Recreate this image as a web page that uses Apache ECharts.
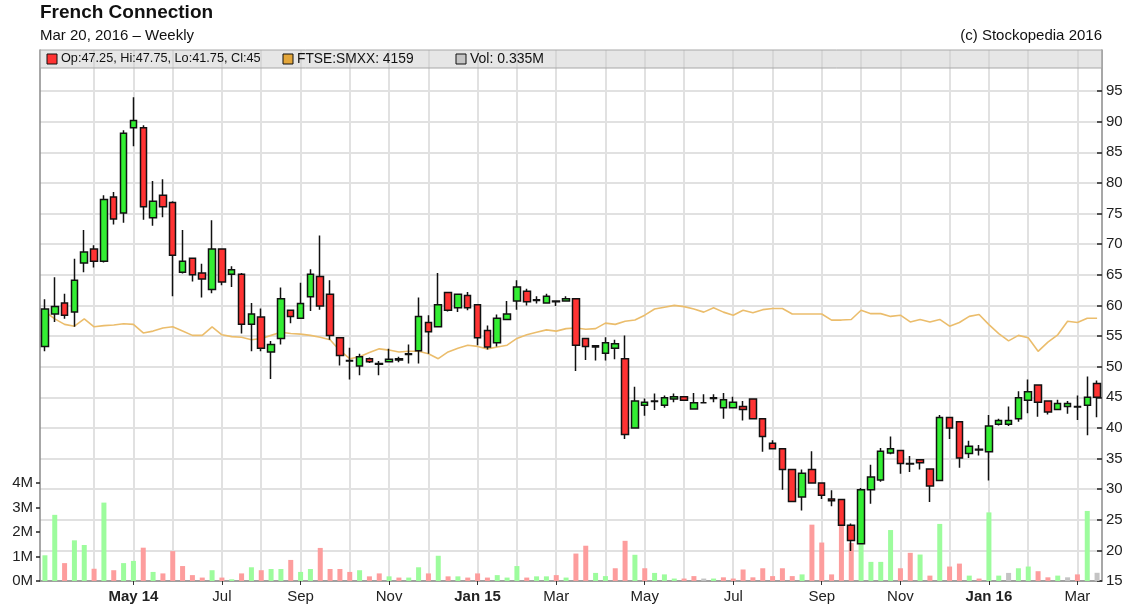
<!DOCTYPE html>
<html><head><meta charset="utf-8">
<script src="https://cdn.jsdelivr.net/npm/echarts@6/dist/echarts.min.js"></script>
<style>html,body{margin:0;padding:0;background:#fff}#c{width:1148px;height:615px}</style>
</head><body><div id="c"></div>
<script>
// ---- data (weekly bars, first bar week of 2014-03-03) ----
const firstWeek = [2014, 2, 3];
const opens = [53.3,58.6,60.4,58.9,66.9,69.2,67.2,77.7,75.1,89.0,
  89.0,74.3,78.0,76.8,65.4,67.7,65.3,62.6,69.2,65.1,
  65.1,56.9,58.1,52.4,54.6,59.2,57.9,61.4,64.7,61.8,
  54.7,51.0,50.1,51.3,50.5,50.8,51.3,52.0,52.6,57.2,
  56.5,62.1,59.6,61.6,60.1,55.9,53.9,57.7,60.7,62.3,
  60.8,60.4,60.7,60.7,61.1,54.6,53.2,52.2,53.0,51.3,
  40.0,43.7,44.3,43.7,44.7,45.1,43.1,44.1,44.8,43.3,
  43.3,43.5,44.7,41.5,37.5,36.6,33.2,28.7,33.2,31.0,
  28.4,28.3,24.1,21.1,29.9,31.5,35.9,36.3,34.2,34.8,
  33.3,31.4,41.7,41.0,35.8,36.5,36.1,40.6,40.6,41.5,
  44.5,47.0,44.4,43.0,43.5,43.5,43.7,47.25];
const closes = [59.4,59.8,58.4,64.1,68.7,67.2,77.3,74.1,88.1,90.2,
  76.1,77.0,76.1,68.2,67.2,65.0,64.3,69.2,63.8,65.8,
  56.9,58.6,53.0,53.6,61.1,58.2,60.3,65.1,59.9,55.1,
  51.8,50.9,51.6,50.8,50.4,51.2,51.1,52.1,58.2,55.7,
  60.1,59.2,61.8,59.6,54.7,53.2,57.9,58.6,63.0,60.6,
  60.9,61.5,60.6,61.1,53.5,53.3,53.4,53.9,53.75,38.9,
  44.4,44.2,44.4,44.9,45.1,44.5,44.1,44.1,44.9,44.6,
  44.2,43.0,41.5,38.6,36.6,33.2,28.0,32.6,31.0,29.0,
  28.1,24.1,21.6,29.9,32.0,36.2,36.6,34.2,34.1,34.3,
  30.5,41.7,40.0,35.1,37.0,36.4,40.3,41.2,41.2,44.9,
  45.9,44.2,42.6,44.0,44.0,43.4,45.0,45.0];
const lows = [52.5,57.3,57.8,56.5,65.4,66.2,67.0,73.2,73.5,86.0,
  74.0,73.0,74.4,61.5,65.2,63.9,61.3,62.0,63.3,63.0,
  55.4,52.5,52.5,48.0,53.6,57.1,57.8,59.1,59.3,54.4,
  50.2,47.9,48.6,50.6,48.6,50.7,50.7,50.5,50.5,52.1,
  56.4,59.0,58.9,59.2,53.5,52.8,53.3,57.6,59.3,60.0,
  60.3,60.3,59.9,60.6,49.3,51.1,51.0,51.0,51.2,38.2,
  39.9,42.0,42.9,43.3,44.2,44.4,43.0,44.0,44.2,41.5,
  43.2,41.2,41.4,36.1,36.5,29.9,27.9,26.5,30.9,28.4,
  27.2,24.0,19.9,21.0,27.6,31.2,35.7,32.5,32.8,33.2,
  27.9,31.3,38.2,33.5,35.1,35.5,31.4,40.4,40.3,41.0,
  42.4,41.8,42.2,42.9,42.3,41.3,38.8,41.75];
const highs = [61.0,64.6,61.9,67.6,72.3,69.8,78.0,78.5,88.6,94.0,
  89.4,80.3,80.6,77.0,72.3,67.8,66.8,73.9,69.3,66.4,
  65.3,60.4,59.5,54.2,62.9,59.3,63.7,65.9,71.4,64.1,
  54.8,53.1,52.1,51.5,50.9,52.9,51.6,53.6,61.3,58.4,
  65.3,62.2,61.9,62.2,60.2,56.7,58.5,60.7,64.1,62.7,
  61.5,61.9,60.8,61.5,61.2,54.7,53.5,54.8,54.4,55.1,
  46.7,44.8,45.6,45.3,45.6,45.2,45.7,45.5,45.5,45.7,
  45.1,44.4,44.8,41.6,38.0,36.6,33.3,33.2,36.2,31.1,
  29.8,28.4,24.4,30.2,34.0,36.7,38.6,36.4,35.4,34.9,
  33.4,42.1,41.8,41.1,37.9,37.2,42.1,41.5,43.5,46.0,
  47.9,47.1,44.5,44.6,44.4,45.3,48.4,47.75];
const volumesM = [1.05,2.7,0.73,1.66,1.47,0.5,3.2,0.44,0.73,0.82,
  1.36,0.37,0.31,1.22,0.61,0.24,0.14,0.44,0.14,0.07,
  0.31,0.56,0.44,0.49,0.49,0.86,0.37,0.49,1.35,0.49,
  0.49,0.37,0.44,0.19,0.31,0.19,0.14,0.14,0.56,0.31,
  1.03,0.19,0.19,0.14,0.31,0.14,0.24,0.14,0.61,0.14,
  0.19,0.19,0.24,0.14,1.12,1.44,0.33,0.2,0.52,1.64,
  1.07,0.52,0.33,0.27,0.1,0.1,0.2,0.1,0.1,0.15,
  0.1,0.47,0.15,0.52,0.2,0.52,0.2,0.27,2.3,1.57,
  0.27,2.4,1.55,1.7,0.78,0.78,2.08,0.52,1.15,1.08,
  0.22,2.33,0.59,0.71,0.22,0.1,2.8,0.22,0.33,0.52,
  0.59,0.4,0.15,0.22,0.15,0.27,2.86,0.335];
const ftseScaled = [59.0,57.8,56.9,56.6,57.8,56.5,56.7,56.8,57.0,56.9,
  55.5,55.8,56.3,56.5,55.8,55.1,55.1,56.5,55.2,54.9,
  54.8,54.4,54.6,55.1,55.6,55.4,55.3,55.1,54.8,54.4,
  52.6,51.3,51.6,52.3,52.9,52.7,52.4,52.5,52.5,52.1,
  51.3,52.4,53.0,53.5,53.3,52.9,53.2,53.5,54.6,55.2,
  55.6,56.0,55.8,56.2,56.3,56.1,56.2,57.1,56.9,57.4,
  57.6,58.4,59.4,59.7,60.0,59.8,59.4,58.9,59.6,58.9,
  58.4,59.2,58.8,59.3,59.5,59.5,58.6,58.6,58.6,58.6,
  57.6,57.6,57.7,59.2,58.65,58.65,58.2,58.4,57.3,57.7,
  57.3,57.7,56.6,57.2,58.2,58.5,56.85,55.4,54.2,55.1,
  54.7,52.5,54.0,55.2,57.4,57.2,57.9,57.9];
const priceTicks = [15,20,25,30,35,40,45,50,55,60,65,70,75,80,85,90,95];
const volTicksM = [0,1,2,3,4];
const monthNames = ['Jan','Feb','Mar','Apr','May','Jun','Jul','Aug','Sep','Oct','Nov','Dec'];
const titleText = 'French Connection';
const subtitleText = 'Mar 20, 2016 \u2013 Weekly';
const copyrightText = '(c) Stockopedia 2016';
const legendItems = ['Op:47.25, Hi:47.75, Lo:41.75, Cl:45', 'FTSE:SMXX: 4159', 'Vol: 0.335M'];

// ---- derived ----
const categories = [], catDates = [];
const t0 = Date.UTC(firstWeek[0], firstWeek[1], firstWeek[2]);
for (let i = 0; i < opens.length; i++) {
  const d = new Date(t0 + i * 7 * 86400000);
  catDates.push(d);
  categories.push(d.toISOString().slice(0, 10));
}
const isMonthStart = i => i > 0 && catDates[i].getUTCDate() <= 7;
const isLabel = i => isMonthStart(i) && catDates[i].getUTCMonth() % 2 === 0;
let firstLabel = -1;
for (let i = 0; i < categories.length; i++) { if (isLabel(i)) { firstLabel = i; break; } }
const monthStartCats = categories.filter((c, i) => isMonthStart(i));

const candleData = opens.map((o, i) => [o, closes[i], lows[i], highs[i]]);
const volData = volumesM.map((v, i) => {
  const prev = i === 0 ? opens[0] : closes[i - 1];
  const c = closes[i] > prev ? '#9dfc9d' : (closes[i] < prev ? '#fd9d9d' : '#c4c4c4');
  return { value: v * 1e6, itemStyle: { color: c } };
});

const FONT = "'Liberation Sans', Arial, sans-serif";
const GRID_L = 40, GRID_R = 46, GRID_B = 34, GRID_T = 50;
const PX_PER_UNIT = 6.125;
const priceMin = 15;
const priceMax = priceMin + (615 - GRID_B - GRID_T) / PX_PER_UNIT;
const volTop = 615 - GRID_B - 4 * 24.5;
const GRID_COLOR = '#e1e1e1';

const chart = echarts.init(document.getElementById('c'), null, { renderer: 'canvas' });

chart.setOption({
  animation: false,
  backgroundColor: '#fff',
  textStyle: { fontFamily: FONT },
  grid: [
    { left: GRID_L, right: GRID_R, top: GRID_T, bottom: GRID_B, containLabel: false },
    { left: GRID_L, right: GRID_R, top: volTop, bottom: GRID_B, containLabel: false }
  ],
  xAxis: [
    {
      type: 'category', gridIndex: 0, data: categories, boundaryGap: true,
      axisLine: { show: true, lineStyle: { color: '#8a8a8a', width: 1.5 } },
      axisTick: { show: true, alignWithLabel: true, length: 4, interval: (i) => isLabel(i), lineStyle: { color: '#333' } },
      axisLabel: {
        show: true, interval: (i) => isLabel(i), margin: 8, fontSize: 15, color: '#222', fontFamily: FONT,
        formatter: (v, i) => {
          const d = new Date(v + 'T00:00:00Z');
          const m = monthNames[d.getUTCMonth()];
          if (i === firstLabel || d.getUTCMonth() === 0) {
            return '{b|' + m + ' ' + String(d.getUTCFullYear()).slice(2) + '}';
          }
          return m;
        },
        rich: { b: { fontWeight: 'bold', fontSize: 15, color: '#222', fontFamily: FONT } }
      },
      splitLine: { show: false }
    },
    { type: 'category', gridIndex: 1, data: categories, boundaryGap: true, show: false }
  ],
  yAxis: [
    {
      type: 'value', gridIndex: 0, position: 'right', min: priceMin, max: priceMax,
      axisLine: { show: true, lineStyle: { color: '#8a8a8a', width: 1.5 } },
      axisTick: { show: true, inside: true, length: 5, customValues: priceTicks, lineStyle: { color: '#222', width: 1.5 } },
      axisLabel: { show: true, margin: 4, fontSize: 15, color: '#222', fontFamily: FONT, customValues: priceTicks,
        formatter: v => String(Math.round(v)) },
      splitLine: { show: true, lineStyle: { color: GRID_COLOR, width: 2 } }
    },
    {
      type: 'value', gridIndex: 0, position: 'left', min: priceMin, max: priceMax,
      axisLine: { show: true, lineStyle: { color: '#8a8a8a', width: 1.5 } },
      axisTick: { show: false }, axisLabel: { show: false }, splitLine: { show: false }
    },
    {
      type: 'value', gridIndex: 1, position: 'left', min: 0, max: 4e6, interval: 1e6,
      axisLine: { show: false },
      axisTick: { show: true, inside: false, length: 4, lineStyle: { color: '#222', width: 1.5 } },
      axisLabel: { show: true, margin: 7, fontSize: 15, color: '#222', fontFamily: FONT,
        formatter: v => volTicksM.indexOf(v / 1e6) >= 0 ? (v / 1e6) + 'M' : '' },
      splitLine: { show: false }
    }
  ],
  series: [
    {
      type: 'line', name: 'monthGrid', xAxisIndex: 0, yAxisIndex: 0, data: [], z: 0, silent: true,
      markLine: {
        silent: true, symbol: 'none', z: 0, animation: false,
        label: { show: false },
        lineStyle: { color: GRID_COLOR, width: 2, type: 'solid' },
        emphasis: { disabled: true },
        data: monthStartCats.map(c => ({ xAxis: c }))
      }
    },
    {
      type: 'bar', name: 'Vol', xAxisIndex: 1, yAxisIndex: 2, data: volData,
      barWidth: 5, z: 2, silent: true
    },
    {
      type: 'line', name: 'FTSE', xAxisIndex: 0, yAxisIndex: 0, data: ftseScaled,
      symbol: 'none', z: 3, silent: true,
      lineStyle: { color: '#ebbd6c', width: 1.6 }
    },
    {
      type: 'candlestick', name: 'Price', xAxisIndex: 0, yAxisIndex: 0, data: candleData,
      barWidth: 7, z: 5, silent: true,
      itemStyle: { color: '#33ee33', color0: '#ff3333', borderColor: '#111', borderColor0: '#111', borderWidth: 1.5 }
    }
  ],
  graphic: [
    { type: 'text', left: 40, top: 3, z: 100, style: { text: titleText, font: 'bold 19px ' + FONT, fill: '#111' } },
    { type: 'text', left: 40, top: 28, z: 100, style: { text: subtitleText, font: '15px ' + FONT, fill: '#111' } },
    { type: 'text', right: 46, top: 28, z: 100, style: { text: copyrightText, font: '15px ' + FONT, fill: '#111' } },
    { type: 'rect', shape: { x: 40, y: 50, width: 1062, height: 18 }, z: 90,
      style: { fill: 'rgba(205,205,205,0.5)', stroke: '#a8a8a8', lineWidth: 1 } },
    { type: 'rect', shape: { x: 47, y: 54, width: 10, height: 10 }, z: 100, style: { fill: '#ff3333', stroke: '#111', lineWidth: 1 } },
    { type: 'text', x: 61, y: 52, z: 100, style: { text: legendItems[0], font: '12.7px ' + FONT, fill: '#111' } },
    { type: 'rect', shape: { x: 283, y: 54, width: 10, height: 10 }, z: 100, style: { fill: '#e3a63a', stroke: '#111', lineWidth: 1 } },
    { type: 'text', x: 297, y: 52, z: 100, style: { text: legendItems[1], font: '13.8px ' + FONT, fill: '#111' } },
    { type: 'rect', shape: { x: 456, y: 54, width: 10, height: 10 }, z: 100, style: { fill: '#c4c4c4', stroke: '#111', lineWidth: 1 } },
    { type: 'text', x: 470, y: 52, z: 100, style: { text: legendItems[2], font: '14px ' + FONT, fill: '#111' } }
  ]
});
</script>
</body></html>
